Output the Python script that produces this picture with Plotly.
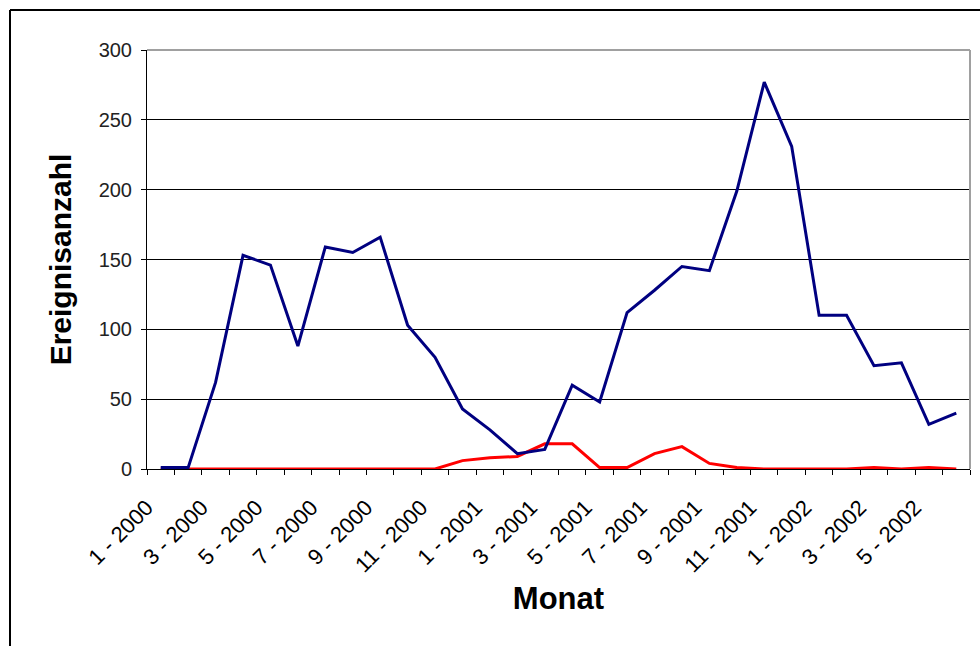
import plotly.graph_objects as go

# Monthly categories Jan 2000 .. Jun 2002
months = [f"{m} - {y}" for y in (2000, 2001, 2002) for m in range(1, 13)][:30]
# Only every second month gets a visible tick label
tick_labels = [lab if i % 2 == 0 else "" for i, lab in enumerate(months)]

# Event counts per month
series_blue = [1, 1, 62, 153, 146, 88, 159, 155, 166, 103,
               80, 43, 28, 11, 14, 60, 48, 112, 128, 145,
               142, 199, 277, 231, 110, 110, 74, 76, 32, 40]
series_red = [0, 0, 0, 0, 0, 0, 0, 0, 0, 0,
              0, 6, 8, 9, 18, 18, 1, 1, 11, 16,
              4, 1, 0, 0, 0, 0, 1, 0, 1, 0]

y_ticks = [0, 50, 100, 150, 200, 250, 300]

fig = go.Figure()
fig.add_trace(go.Scatter(x=months, y=series_red, mode="lines",
                         line=dict(color="#ff0000", width=3), showlegend=False))
fig.add_trace(go.Scatter(x=months, y=series_blue, mode="lines",
                         line=dict(color="#000080", width=3), showlegend=False))

# plot area spans 147..970 px horizontally, 50..469 px vertically
L, R, T, B = 147, 10, 50, 177
W, H = 980, 646
pw, ph = W - L - R, H - T - B
px = lambda x: (x - L) / pw
py = lambda y: (H - B - y) / ph

shapes = [
    # light grey frame on the top and right of the plot area
    dict(type="line", xref="paper", yref="paper", x0=0, x1=1, y0=1, y1=1,
         line=dict(color="#a0a0a0", width=2), layer="above"),
    dict(type="line", xref="paper", yref="paper", x0=1, x1=1, y0=0, y1=1,
         line=dict(color="#a0a0a0", width=2), layer="above"),
    # outer chart border (left and top edges visible)
    dict(type="line", xref="paper", yref="paper", x0=px(10), x1=px(10),
         y0=py(10), y1=py(700), line=dict(color="black", width=2)),
    dict(type="line", xref="paper", yref="paper", x0=px(10), x1=px(1000),
         y0=py(10), y1=py(10), line=dict(color="black", width=2)),
]

fig.update_layout(
    width=W, height=H,
    margin=dict(l=L, r=R, t=T, b=B),
    paper_bgcolor="white", plot_bgcolor="white",
    font=dict(family="Liberation Sans, Arial, sans-serif", color="black"),
    shapes=shapes,
    xaxis=dict(
        type="category", categoryorder="array", categoryarray=months,
        range=[-0.5, len(months) - 0.5],
        tickmode="array", tickvals=months, ticktext=tick_labels,
        tickson="boundaries", ticks="outside", ticklen=5, tickcolor="black",
        tickangle=-45, tickfont=dict(size=22),
        ticklabelstandoff=16, ticklabelshift=-14,
        showline=True, linecolor="black", linewidth=1,
        showgrid=False, zeroline=False,
        title=dict(text="<b>Monat</b>", font=dict(size=31), standoff=10),
    ),
    yaxis=dict(
        range=[0, 300], tickvals=y_ticks,
        ticks="outside", ticklen=5, tickcolor="black",
        tickfont=dict(size=20, color="#222222"), ticklabelstandoff=5,
        showline=True, linecolor="black", linewidth=1,
        showgrid=True, gridcolor="black", gridwidth=1,
        zeroline=False,
        title=dict(text="<b>Ereignisanzahl</b>", font=dict(size=30), standoff=18),
    ),
)

fig.write_html("out.html")
